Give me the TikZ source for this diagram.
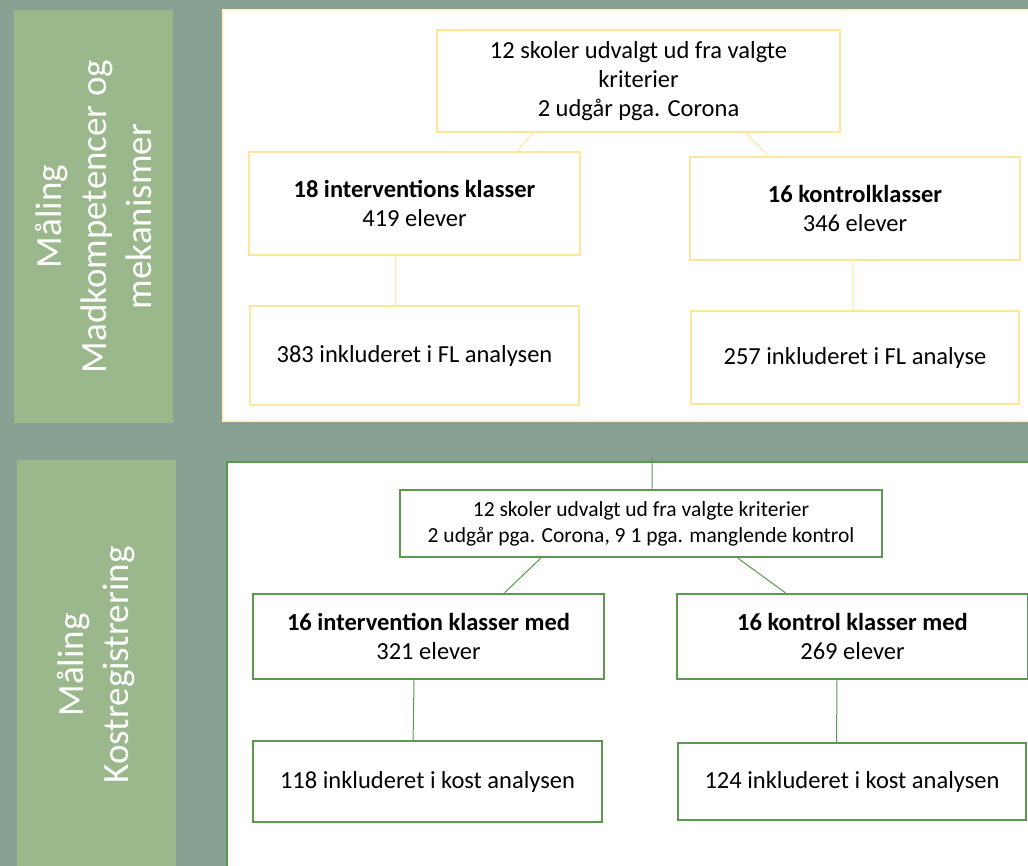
\documentclass[tikz,border=0pt]{standalone}
\usepackage{fontspec}
\setmainfont{Carlito}
\usepackage{tikz}
\usetikzlibrary{positioning, calc}
\definecolor{bggreen}{HTML}{88A192}
\definecolor{labgreen}{HTML}{9BB78C}
\definecolor{paleyellow}{HTML}{FFF2CC}
\definecolor{boxyellow}{HTML}{FFE699}
\definecolor{boxgreen}{HTML}{5A9A4C}
\tikzset{
  label/.style={rectangle, fill=labgreen, rotate=90, text=white, align=center, inner sep=0pt,
    minimum height=159pt, font=\fontsize{37}{45}\selectfont},
  panel/.style={rectangle, fill=white, line width=2pt, inner sep=0pt},
  box/.style={draw, rectangle, fill=white, align=center, inner sep=0pt, line width=2.5pt,
    font=\fontsize{24.5}{29}\selectfont},
  ybox/.style={box, draw=boxyellow},
  gbox/.style={box, draw=boxgreen},
  ylink/.style={boxyellow, line width=1pt},
  glink/.style={boxgreen, line width=1pt},
}
\begin{document}
\begin{tikzpicture}[x=1pt, y=-1pt]
  \useasboundingbox (0,0) rectangle (1028,866);
  \fill[bggreen] (0,0) rectangle (1028,866);

  % Madkompetencer
  \node[label, minimum width=413pt] (lab1) at (93.5,216.5) {Måling\\Madkompetencer og\\mekanismer};
  \node[panel, draw=paleyellow, minimum width=810pt, minimum height=411pt] (pan1) at (628,215.5) {};
  \node[ybox, minimum width=403pt, minimum height=102pt] (sel1) at (638.5,81)
    {12 skoler udvalgt ud fra valgte\\kriterier\\2 udgår pga. Corona};
  \node[ybox, minimum width=331pt, minimum height=103pt] (int1) at (414.5,203.5)
    {\textbf{18 interventions klasser}\\419 elever};
  \node[ybox, minimum width=330pt, minimum height=103pt] (kon1) at (855,208.5)
    {\textbf{16 kontrolklasser}\\346 elever};
  \node[ybox, minimum width=329pt, minimum height=99pt] (ana1) at (414.5,355.5)
    {383 inkluderet i FL analysen};
  \node[ybox, minimum width=328pt, minimum height=93pt] (ana2) at (855,357.5)
    {257 inkluderet i FL analyse};

  \draw[ylink] ($(sel1.south west)!0.238!(sel1.south east)$) -- ($(int1.north west)!0.81!(int1.north east)$);
  \draw[ylink] ($(sel1.south west)!0.764!(sel1.south east)$) -- ($(kon1.north west)!0.24!(kon1.north east)$);
  \draw[ylink] ($(int1.south west)!0.444!(int1.south east)$) -- ($(ana1.north west)!0.444!(ana1.north east)$);
  \draw[ylink] ($(kon1.south west)!0.494!(kon1.south east)$) -- ($(ana2.north west)!0.494!(ana2.north east)$);

  % Kostregistrering
  \node[label, minimum width=410pt] (lab2) at (96.5,665) {Måling\\Kostregistrering};
  \node[panel, draw=boxgreen, line width=2.5pt, minimum width=806pt, minimum height=410pt] (pan2) at (630,667) {};
  \coordinate (top2) at (652,458);
  \node[gbox, minimum width=482pt, minimum height=67pt, font=\fontsize{21.5}{26}\selectfont] (sel2) at (641,523.5)
    {12 skoler udvalgt ud fra valgte kriterier\\2 udgår pga. Corona, 9 1 pga. manglende kontrol};
  \node[gbox, minimum width=351pt, minimum height=85pt] (int2) at (428.5,636.5)
    {\textbf{16 intervention klasser med}\\321 elever};
  \node[gbox, minimum width=351pt, minimum height=85pt] (kon2) at (852.5,636.5)
    {\textbf{16 kontrol klasser med}\\269 elever};
  \node[gbox, minimum width=349pt, minimum height=81pt] (ana3) at (427.5,781.5)
    {118 inkluderet i kost analysen};
  \node[gbox, minimum width=348pt, minimum height=77pt] (ana4) at (852,781.5)
    {124 inkluderet i kost analysen};

  \draw[glink] (top2) -- ($(sel2.north west)!0.523!(sel2.north east)$);
  \draw[glink] ($(sel2.south west)!0.293!(sel2.south east)$) -- ($(int2.north west)!0.715!(int2.north east)$);
  \draw[glink] ($(sel2.south west)!0.70!(sel2.south east)$) -- ($(kon2.north west)!0.31!(kon2.north east)$);
  \draw[glink] ($(int2.south west)!0.459!(int2.south east)$) -- ($(ana3.north west)!0.459!(ana3.north east)$);
  \draw[glink] ($(kon2.south west)!0.456!(kon2.south east)$) -- ($(ana4.north west)!0.456!(ana4.north east)$);
\end{tikzpicture}
\end{document}
